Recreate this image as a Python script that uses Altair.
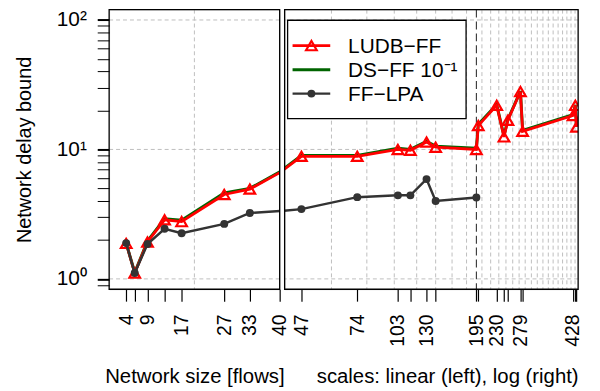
import altair as alt
import pandas as pd

# ---------------- data ----------------
flows = [4, 6, 9, 13, 17, 27, 33, 47, 74, 103, 114, 130, 140, 195, 198,
         230, 244, 252, 279, 284, 428, 436, 440]
ludb_ff = [1.88, 1.11, 1.93, 2.86, 2.77, 4.49, 4.94, 8.85, 8.85, 10.0, 9.85,
           11.4, 10.4, 10.0, 15.3, 21.9, 12.5, 16.8, 28.0, 13.8, 18.3, 21.9, 14.9]
ds_ff = [1.89, 1.12, 1.96, 2.91, 2.84, 4.62, 5.0, 8.98, 8.98, 10.2, 10.0,
         11.55, 10.6, 10.2, 15.6, 22.2, 12.7, 17.1, 28.2, 14.0, 18.55, 22.1, 15.1]
lpa_flows = [4, 6, 9, 13, 17, 27, 33, 47, 74, 103, 114, 130, 140, 195]
ff_lpa = [1.89, 1.11, 1.86, 2.44, 2.25, 2.66, 3.23, 3.46, 4.28, 4.42, 4.42,
          5.9, 4.0, 4.26]

series_names = ["LUDB\u2212FF", "DS\u2212FF 10\u207b\u00b9", "FF\u2212LPA"]

left_ticks = [4, 6, 9, 13, 17, 27, 33, 40]
left_labels = [4, 9, 17, 27, 33, 40]
right_ticks = [47, 74, 103, 114, 130, 140, 195, 198, 230, 244, 252, 279, 284,
               428, 436, 440]
right_labels = [47, 74, 103, 130, 195, 230, 279, 428]
y_ticks = [0.9, 1, 2, 3, 4, 5, 6, 7, 8, 9, 10, 20, 30, 40, 50, 60, 70, 80, 90, 100]
y_labels = [1, 10, 100]

left_grid_x = [20]
right_grid_x = [60, 80, 100, 120, 140, 160, 180, 204, 219, 234, 248, 262, 276,
                290, 305, 320, 335, 350, 364, 379, 393, 407, 421, 435]
grid_y = [1, 10, 100]
marker_x = [195]

# ---------------- styling ----------------
FONT = "Liberation Sans"
RED = "#FF0000"
GREEN = "#006400"
DARK = "#333333"
GRID = "#BEBEBE"
TRI = 115
DOT = 64

ludb_df = pd.DataFrame({"x": flows, "v": ludb_ff})
ds_df = pd.DataFrame({"x": flows, "v": ds_ff})
lpa_df = pd.DataFrame({"x": lpa_flows, "v": ff_lpa})

yscale = alt.Scale(type="log", domain=[0.832, 120.2], nice=False)

y_axis = alt.Axis(
    values=y_ticks,
    labelExpr="datum.value == 1 ? '10\u2070' : datum.value == 10 ? '10\u00b9' : datum.value == 100 ? '10\u00b2' : ''",
    tickSize=12, labelPadding=11, domain=False, grid=False,
    tickColor="black",
    tickWidth={"condition": {"test": "indexof([1, 10, 100], datum.value) >= 0", "value": 2}, "value": 1},
    labelFontSize=21, labelFont=FONT, labelColor="black", labelOverlap=False,
    title="Network delay bound", titleFontSize=20, titleFont=FONT,
    titleFontWeight="normal", titleColor="black",
    minExtent=66, maxExtent=66, titlePadding=9,
)


def x_axis(ticks, labels, title, anchor):
    return alt.Axis(
        values=ticks,
        labelExpr="indexof(%s, datum.value) >= 0 ? format(datum.value, 'd') : ''" % str(labels),
        labelAngle=-90, tickSize=12, labelPadding=13, domain=False, grid=False,
        tickColor="black", tickWidth=1.2,
        labelFontSize=19.5, labelFont=FONT, labelColor="black", labelOverlap=False,
        title=title, titleFontSize=20.5, titleFont=FONT, titleFontWeight="normal",
        titleColor="black", titleAnchor=anchor,
        minExtent=60, maxExtent=60, titlePadding=18,
    )


def panel(xscale, xaxis, lo, hi, vgrid, show_y, width, height=282, legend=False, markers=None):
    def xe():
        return alt.X("x:Q", scale=xscale, axis=xaxis)

    def ye():
        return alt.Y("v:Q", scale=yscale, axis=y_axis if show_y else None)

    def sel(df):
        return df[(df.x >= lo) & (df.x <= hi)]

    one = pd.DataFrame({"k": [0]})
    layers = [
        alt.Chart(pd.DataFrame({"x": vgrid})).mark_rule(
            color=GRID, strokeDash=[4, 3], strokeWidth=1).encode(x=xe()),
        alt.Chart(pd.DataFrame({"v": grid_y})).mark_rule(
            color=GRID, strokeDash=[4, 3], strokeWidth=1).encode(y=ye()),
    ]
    if markers:
        layers.append(alt.Chart(pd.DataFrame({"x": markers})).mark_rule(
            color=DARK, strokeDash=[8, 4], strokeWidth=1.1).encode(x=xe()))
    layers += [
        alt.Chart(sel(ds_df)).mark_line(clip=True, color=GREEN, strokeWidth=3).encode(x=xe(), y=ye()),
        alt.Chart(sel(ludb_df)).mark_line(clip=True, color=RED, strokeWidth=2.8).encode(x=xe(), y=ye()),
        alt.Chart(sel(ludb_df)).mark_point(clip=True, shape="triangle-up", filled=False, size=TRI,
                                           strokeWidth=2.2, color=RED, opacity=1).encode(x=xe(), y=ye()),
        alt.Chart(sel(lpa_df)).mark_line(clip=True, color=DARK, strokeWidth=2.5).encode(x=xe(), y=ye()),
        alt.Chart(sel(lpa_df)).mark_circle(clip=True, size=DOT, color=DARK, opacity=1).encode(x=xe(), y=ye()),
    ]
    if legend:
        layers.append(alt.Chart(one).mark_rect(fill="white", stroke="black", strokeWidth=1.3).encode(
            x=alt.value(3), x2=alt.value(183), y=alt.value(10.7), y2=alt.value(110)))
        colors = [RED, GREEN, DARK]
        widths = [2.8, 3, 2.5]
        rows = [36.3, 60.7, 84.7]
        for name, c, w, ry in zip(series_names, colors, widths, rows):
            layers.append(alt.Chart(one).mark_rule(color=c, strokeWidth=w).encode(
                x=alt.value(8), x2=alt.value(46), y=alt.value(ry)))
            layers.append(alt.Chart(pd.DataFrame({"name": [name]})).mark_text(
                align="left", baseline="middle", font=FONT, fontSize=21, color="black").encode(
                x=alt.value(64), y=alt.value(ry + 1), text="name:N"))
        layers.append(alt.Chart(one).mark_point(shape="triangle-up", filled=False, size=TRI,
                                                strokeWidth=2.2, color=RED, opacity=1).encode(
            x=alt.value(27), y=alt.value(rows[0])))
        layers.append(alt.Chart(one).mark_circle(size=DOT, color=DARK, opacity=1).encode(
            x=alt.value(27), y=alt.value(rows[2])))
    # panel frame
    layers.append(alt.Chart(one).mark_rect(fill=None, stroke="black", strokeWidth=1.3).encode(
        x=alt.value(0), x2=alt.value(width), y=alt.value(0), y2=alt.value(height)))
    return alt.layer(*layers).properties(width=width, height=height)


left = panel(
    alt.Scale(domain=[0, 40], nice=False, zero=False),
    x_axis(left_ticks, left_labels, "Network size [flows]", "middle"),
    0, 47, left_grid_x, True, 172,
)
right = panel(
    alt.Scale(type="log", domain=[41, 446], nice=False),
    x_axis(right_ticks, right_labels, "scales: linear (left), log (right)", "end"),
    33, 1000, right_grid_x, False, 296, legend=True, markers=marker_x,
)

chart = alt.hconcat(left, right, spacing=5, bounds="flush").properties(
    padding={"left": 6, "top": -2, "right": 5, "bottom": 5}
).configure_view(stroke=None).configure(font=FONT)

chart.save("out.html", embed_options={"renderer": "svg", "actions": False})
